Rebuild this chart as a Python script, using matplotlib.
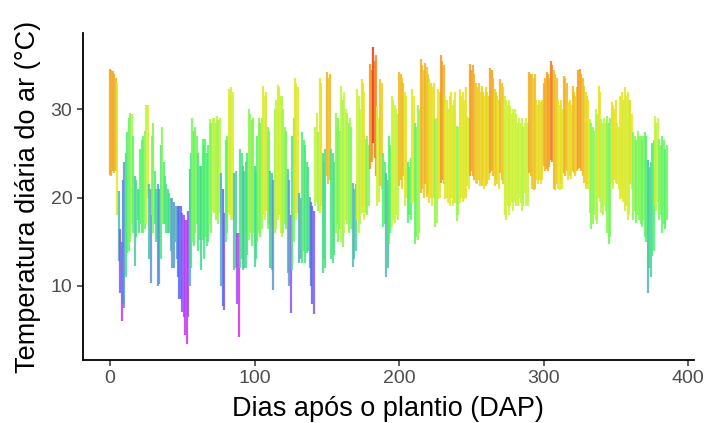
"""
Temperatura diária do ar (mín - máx) por DAP
"""

import numpy as np
import matplotlib
matplotlib.use('Agg')
import matplotlib.pyplot as plt
from matplotlib.collections import LineCollection
from matplotlib.colors import LinearSegmentedColormap, Normalize

plt.rcParams['font.family'] = ['Liberation Sans', 'DejaVu Sans']

# ---------------------------------------------------------------
# Dados (°C), um valor por dia a partir de DAP 0
# ---------------------------------------------------------------
TMAX = [
    34.6, 34.5, 34.3, 34.0, 33.5, 33.0, 20.8, 16.5, 15.0, 22.0,
    24.0, 25.0, 27.4, 29.0, 29.6, 29.5, 27.0, 22.4, 22.0, 21.0,
    21.0, 25.5, 26.5, 27.0, 27.5, 30.5, 30.5, 21.5, 21.0, 27.0,
    28.5, 23.0, 21.0, 21.5, 21.0, 26.0, 28.0, 24.0, 22.5, 21.5,
    21.0, 20.5, 20.0, 20.0, 19.5, 19.0, 19.0, 19.0, 19.0, 19.0,
    18.3, 18.0, 17.5, 17.5, 18.5, 23.2, 25.0, 29.0, 27.5, 28.0,
    27.0, 25.0, 23.6, 23.6, 26.6, 26.0, 26.6, 25.0, 26.0, 28.9,
    28.5, 29.0, 29.0, 28.5, 29.2, 28.8, 29.0, 22.8, 21.0, 18.3,
    26.5, 27.0, 32.3, 31.5, 32.5, 32.0, 22.8, 23.0, 16.0, 16.0,
    25.5, 25.0, 23.6, 23.0, 24.0, 25.0, 30.0, 29.5, 28.8, 29.0,
    23.6, 23.0, 27.0, 29.0, 28.5, 29.0, 32.6, 31.5, 32.0, 28.0,
    27.5, 23.0, 22.8, 22.0, 30.0, 31.0, 32.8, 32.5, 31.5, 31.5,
    30.0, 28.0, 27.5, 23.2, 22.0, 18.0, 27.0, 29.0, 33.6, 33.0,
    32.5, 20.5, 20.0, 27.4, 26.5, 26.0, 24.0, 23.5, 20.1, 19.5,
    19.0, 18.5, 28.0, 29.6, 27.4, 33.6, 33.0, 25.0, 24.0, 25.5,
    34.2, 33.5, 34.0, 25.5, 25.0, 24.0, 29.6, 28.0, 29.0, 27.5,
    32.6, 31.0, 32.0, 30.0, 29.6, 28.5, 29.0, 28.0, 21.7, 21.0,
    21.5, 32.3, 31.5, 30.0, 33.4, 33.0, 32.0, 26.6, 27.0, 26.0,
    35.1, 34.5, 37.0, 35.5, 36.2, 30.4, 29.0, 33.4, 33.0, 25.0,
    24.0, 22.8, 22.0, 27.0, 26.0, 31.5, 31.0, 30.5, 30.0, 29.5,
    34.2, 34.0, 33.5, 33.0, 32.0, 31.5, 24.0, 23.5, 24.5, 32.3,
    31.5, 28.5, 28.0, 30.5, 30.0, 35.7, 35.0, 34.5, 35.2, 34.8,
    34.0, 33.4, 33.0, 32.5, 33.0, 28.9, 29.0, 32.3, 32.0, 36.2,
    35.5, 35.0, 31.5, 31.0, 30.0, 31.5, 32.0, 30.5, 31.0, 32.0,
    28.1, 28.0, 32.3, 31.5, 32.0, 31.0, 32.5, 29.2, 29.0, 35.1,
    34.5, 35.0, 34.0, 33.0, 32.5, 33.0, 32.0, 32.6, 32.0, 31.5,
    32.5, 32.0, 31.5, 34.7, 34.5, 33.5, 32.3, 32.0, 31.5, 31.0,
    33.4, 33.0, 32.5, 31.5, 31.0, 30.5, 31.0, 30.4, 29.5, 30.0,
    30.0, 29.5, 28.5, 29.0, 28.5, 29.0, 28.0, 28.5, 29.0, 28.5,
    34.2, 34.0, 34.0, 33.5, 34.0, 31.0, 30.5, 31.0, 30.8, 31.0,
    33.0, 33.5, 34.2, 34.0, 33.5, 35.5, 35.0, 34.5, 34.0, 33.5,
    31.0, 30.5, 31.0, 30.0, 33.8, 33.5, 33.0, 30.8, 31.0, 30.5,
    32.6, 32.0, 31.5, 32.5, 34.5, 34.6, 34.0, 33.5, 32.6, 32.0,
    31.5, 31.0, 28.9, 28.5, 28.0, 27.5, 30.0, 29.5, 32.6, 32.0,
    28.9, 28.5, 29.0, 28.5, 29.2, 28.5, 29.0, 30.8, 30.5, 30.0,
    31.0, 28.5, 28.0, 31.5, 32.0, 31.0, 32.5, 31.5, 32.0, 31.0,
    31.0, 29.5, 27.4, 27.0, 26.5, 27.5, 27.0, 27.0, 26.5, 27.0,
    27.4, 27.0, 24.3, 23.5, 24.0, 26.2, 26.5, 29.2, 28.5, 29.0,
    26.6, 26.0, 27.0, 26.5, 25.5, 26.0,
]

TMIN = [
    22.6, 22.5, 23.0, 22.8, 23.0, 18.0, 12.8, 9.2, 6.0, 8.0,
    7.5, 11.0, 13.7, 14.0, 15.0, 17.0, 16.0, 12.3, 15.5, 17.5,
    16.0, 17.0, 16.0, 16.0, 16.5, 17.0, 20.0, 13.0, 10.3, 18.0,
    16.0, 17.0, 15.0, 10.0, 10.2, 13.0, 17.0, 17.0, 17.0, 16.0,
    16.0, 16.0, 14.0, 12.0, 12.0, 15.0, 13.0, 11.0, 8.5, 8.5,
    7.0, 6.5, 4.5, 3.4, 6.5, 10.0, 12.0, 15.0, 14.5, 16.0,
    17.0, 14.0, 15.2, 11.8, 15.2, 13.0, 15.5, 14.5, 15.0, 17.0,
    16.0, 18.5, 18.3, 17.5, 18.0, 17.0, 18.3, 10.0, 7.7, 7.3,
    15.0, 16.0, 18.3, 18.0, 17.5, 17.5, 11.8, 12.0, 8.0, 4.2,
    12.0, 13.0, 11.8, 12.0, 12.0, 13.5, 15.2, 16.0, 14.5, 16.0,
    12.2, 13.0, 15.0, 16.0, 15.5, 16.5, 18.0, 17.5, 18.5, 16.5,
    17.0, 12.0, 11.8, 9.5, 16.0, 16.5, 17.5, 18.0, 16.0, 15.5,
    16.0, 17.0, 16.5, 11.5, 10.0, 6.9, 11.8, 15.0, 18.3, 17.5,
    18.3, 12.6, 13.0, 12.6, 14.0, 12.6, 13.7, 14.0, 12.0, 10.0,
    8.0, 6.8, 19.0, 19.5, 18.5, 18.3, 19.0, 11.5, 13.0, 12.0,
    22.4, 21.5, 22.0, 13.0, 12.6, 13.5, 16.0, 17.0, 15.0, 16.5,
    15.0, 14.4, 16.0, 17.5, 17.0, 16.0, 17.5, 16.5, 12.2, 13.0,
    14.0, 17.5, 16.0, 17.0, 18.3, 19.0, 17.5, 18.3, 18.0, 19.0,
    23.2, 24.0, 26.2, 24.5, 22.4, 19.0, 19.5, 21.3, 21.0, 16.7,
    17.0, 11.0, 12.0, 14.8, 16.0, 16.7, 17.5, 17.1, 18.0, 17.5,
    21.3, 22.0, 21.0, 22.4, 19.0, 20.0, 17.1, 18.0, 17.5, 19.4,
    19.5, 14.8, 15.5, 15.2, 16.0, 20.5, 21.0, 20.0, 21.5, 20.1,
    20.5, 19.4, 20.0, 19.0, 20.0, 16.7, 17.1, 19.8, 20.0, 21.7,
    22.0, 21.5, 19.8, 20.0, 19.4, 19.0, 20.0, 19.1, 19.5, 19.4,
    17.3, 18.0, 19.4, 20.0, 19.5, 19.8, 20.0, 21.3, 21.0, 22.4,
    23.0, 22.5, 22.0, 21.7, 21.5, 22.0, 21.3, 21.3, 22.0, 21.0,
    21.3, 21.5, 22.0, 22.8, 23.0, 22.5, 21.3, 22.0, 21.5, 21.0,
    22.8, 22.0, 21.5, 18.0, 17.5, 19.0, 18.0, 19.0, 19.5, 18.5,
    19.5, 19.0, 19.0, 20.0, 19.4, 18.5, 19.0, 20.5, 19.0, 19.0,
    22.8, 22.5, 21.0, 20.9, 21.0, 22.0, 21.5, 22.0, 21.5, 22.0,
    23.6, 23.0, 23.2, 23.0, 23.5, 24.3, 24.0, 21.0, 20.9, 21.5,
    21.0, 20.9, 21.5, 21.0, 22.8, 22.5, 23.0, 22.0, 22.5, 22.1,
    23.0, 22.8, 22.5, 23.0, 23.2, 23.3, 23.0, 22.5, 21.7, 21.0,
    21.5, 21.0, 18.3, 16.4, 17.0, 18.0, 17.5, 17.0, 20.0, 19.5,
    18.3, 18.0, 19.0, 18.5, 16.0, 14.8, 15.5, 21.7, 21.0, 22.0,
    21.7, 21.5, 21.0, 19.8, 20.0, 19.5, 18.5, 19.0, 17.5, 18.0,
    21.5, 21.0, 17.5, 18.5, 17.1, 18.0, 17.5, 17.0, 16.7, 17.5,
    15.5, 15.0, 9.2, 12.0, 11.0, 13.4, 14.0, 19.0, 18.5, 19.5,
    17.5, 18.0, 16.0, 17.0, 16.5, 17.5,
]

DAP = np.arange(len(TMAX))

# paleta "arco-íris" (frio -> quente) pela temperatura média do dia
PAL_T = [10.0, 12.0, 14.0, 16.0, 18.0, 21.0, 24.0, 26.0, 28.5, 32.0]
PAL_C = ['#D62BF2', '#9E4CF5', '#4D6BF2', '#5C9FD0', '#45DC8C',
         '#4CF56A', '#C6F53A', '#E8E41E', '#F2AA22', '#F02A10']


def main():
    tmin = np.array(TMIN)
    tmax = np.array(TMAX)
    tmed = (tmin + tmax) / 2

    lo, hi = PAL_T[0], PAL_T[-1]
    stops = [((t - lo) / (hi - lo), c) for t, c in zip(PAL_T, PAL_C)]
    cmap = LinearSegmentedColormap.from_list('arco', stops)
    norm = Normalize(lo, hi)

    fig = plt.figure(figsize=(7.07, 4.23), dpi=100)
    ax = fig.add_axes([0.117, 0.149, 0.8646, 0.773])

    segs = [[(d, a), (d, b)] for d, a, b in zip(DAP, tmin, tmax)]
    lc = LineCollection(segs, colors=cmap(norm(tmed)), linewidths=1.6,
                        alpha=0.85, capstyle='butt')
    ax.add_collection(lc)

    ax.set_xlim(-18.9, 404)
    ax.set_ylim(1.62, 38.64)
    ax.set_xticks([0, 100, 200, 300, 400])
    ax.set_yticks([10, 20, 30])

    for s in ['top', 'right']:
        ax.spines[s].set_visible(False)
    for s in ['left', 'bottom']:
        ax.spines[s].set_linewidth(1.3)
        ax.spines[s].set_color('black')
    ax.tick_params(length=4.5, width=1.1, color='#333333',
                   labelsize=14, labelcolor='#4D4D4D', pad=3)

    ax.set_xlabel('Dias após o plantio (DAP)', fontsize=19.5, labelpad=6)
    ax.set_ylabel('Temperatura diária do ar (°C)', fontsize=19.5, labelpad=7)

    fig.savefig('out.png', dpi=100)


if __name__ == '__main__':
    main()
